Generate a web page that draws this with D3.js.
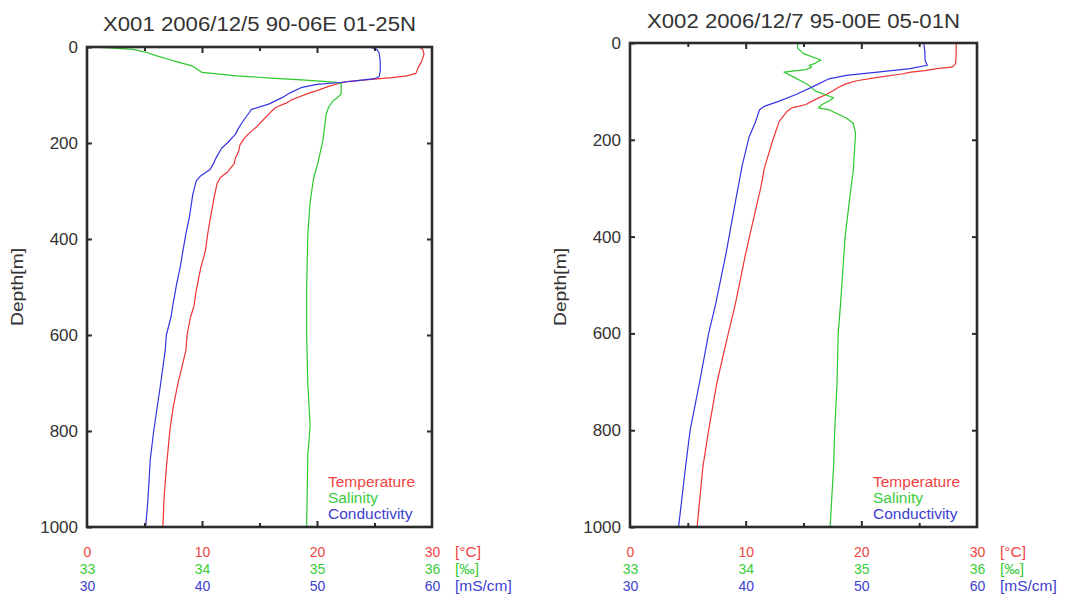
<!DOCTYPE html>
<html><head><meta charset="utf-8">
<script src="https://cdn.jsdelivr.net/npm/d3@7"></script>
<style>
body{margin:0;background:#fff}
text{font-family:"Liberation Sans",Arial,Helvetica,sans-serif}
</style>
</head><body>
<svg id="c" width="1089" height="603"></svg>
<script>
// ---------- data ----------
const depthTicks = [0, 200, 400, 600, 800, 1000];
const tempTicks = [0, 10, 20, 30];
const salTicks = [33, 34, 35, 36];
const condTicks = [30, 40, 50, 60];
const majorTempTicks = [10, 20];
const minorTempTicks = [5, 15, 25];
const units = ["[°C]", "[‰]", "[mS/cm]"];
const legendLabels = ["Temperature", "Salinity", "Conductivity"];
const titles = ["X001 2006/12/5 90-06E 01-25N", "X002 2006/12/7 95-00E 05-01N"];

// [depth m, value]
const x001Temperature = [[0,28.9],[5,29.2],[15,29.3],[30,29.1],[43,28.8],[55,28.6],[60,27.8],[64,26.5],[68,24.5],[72,22.6],[76,21.9],[82,21.0],[91,20.0],[96,19.3],[110,17.8],[117,17.3],[126,16.4],[135,16.0],[150,15.4],[165,14.8],[182,14.0],[190,13.7],[204,13.3],[216,13.2],[232,12.9],[243,12.8],[261,12.2],[272,11.6],[285,11.3],[320,11.0],[360,10.7],[389,10.5],[424,10.3],[459,9.9],[507,9.5],[540,9.3],[563,9.0],[600,8.7],[632,8.6],[702,7.9],[750,7.5],[800,7.2],[877,6.9],[940,6.7],[1000,6.6]];
const x001Salinity = [[0,33.0],[2,33.2],[5,33.4],[10,33.5],[18,33.6],[25,33.7],[32,33.8],[40,33.92],[53,34.0],[60,34.3],[65,34.6],[69,34.9],[73,35.15],[76,35.21],[98,35.21],[105,35.18],[112,35.14],[126,35.1],[140,35.08],[196,35.05],[239,35.01],[274,34.97],[323,34.94],[393,34.92],[500,34.91],[600,34.91],[700,34.92],[790,34.94],[850,34.92],[1000,34.91]];
const x001Conductivity = [[0,54.6],[5,55.2],[12,55.4],[30,55.5],[50,55.5],[62,55.4],[66,55.0],[70,53.5],[74,52.0],[78,50.0],[84,48.7],[95,47.7],[105,47.0],[119,45.8],[130,44.3],[137,44.1],[150,43.7],[168,43.2],[182,42.9],[200,42.2],[211,41.7],[232,41.2],[243,41.0],[255,40.7],[268,39.9],[279,39.5],[307,39.2],[355,38.9],[389,38.6],[459,38.1],[493,37.8],[533,37.5],[563,37.3],[600,36.9],[632,36.8],[702,36.4],[800,35.8],[860,35.5],[943,35.3],[1000,35.1]];

const x002Temperature = [[0,28.2],[20,28.2],[42,28.15],[47,28.0],[50,27.8],[53,26.5],[57,25.5],[60,24.3],[64,23.5],[71,21.4],[78,19.6],[85,18.6],[92,18.0],[99,17.5],[106,17.0],[117,16.0],[127,15.2],[134,14.0],[141,13.6],[162,12.9],[204,12.3],[260,11.6],[300,11.3],[330,11.0],[435,10.0],[540,9.1],[600,8.5],[703,7.5],[800,6.8],[876,6.3],[1000,5.8]];
const x002Salinity = [[0,34.45],[11,34.45],[22,34.5],[35,34.65],[42,34.6],[46,34.55],[50,34.57],[55,34.52],[60,34.33],[71,34.42],[81,34.5],[88,34.55],[99,34.6],[113,34.76],[120,34.72],[127,34.66],[134,34.63],[138,34.72],[155,34.87],[166,34.93],[187,34.95],[265,34.93],[300,34.91],[400,34.86],[540,34.82],[600,34.8],[703,34.79],[800,34.77],[876,34.76],[1000,34.73]];
const x002Conductivity = [[0,55.4],[20,55.5],[35,55.5],[46,55.7],[53,54.2],[60,51.4],[67,48.7],[74,47.2],[88,46.0],[106,44.4],[120,42.9],[131,41.6],[138,41.2],[166,40.8],[194,40.3],[253,39.7],[330,39.1],[435,38.3],[540,37.4],[600,36.8],[703,36.0],[800,35.2],[876,34.8],[1000,34.2]];

const profiles = [
  [x001Temperature, x001Salinity, x001Conductivity],
  [x002Temperature, x002Salinity, x002Conductivity]
];

// ---------- layout / style ----------
const layouts = [
  {x0: 87, x1: 432, y0: 47, y1: 527, titleY: 31},
  {x0: 630, x1: 977, y0: 43, y1: 527, titleY: 28}
];
const lineColors = ["#f03434", "#2cc82c", "#3434e0"];
const textColors = ["#f04444", "#3ccc3c", "#4040d0"];
const rowBaselines = [557, 574, 591];
const legendBaselines = [487, 503, 519];
const frameColor = "#2b2b2b";

const svg = d3.select("#c");

layouts.forEach((L, i) => {
  const g = svg.append("g");
  const y = d3.scaleLinear().domain([0, 1000]).range([L.y0, L.y1]);
  const xT = d3.scaleLinear().domain([0, 30]).range([L.x0, L.x1]);
  const xS = d3.scaleLinear().domain([33, 36]).range([L.x0, L.x1]);
  const xC = d3.scaleLinear().domain([30, 60]).range([L.x0, L.x1]);
  const xs = [xT, xS, xC];

  // profiles
  profiles[i].forEach((data, k) => {
    g.append("path").datum(data)
      .attr("fill", "none")
      .attr("stroke", lineColors[k])
      .attr("stroke-width", 1.2)
      .attr("stroke-linejoin", "round")
      .attr("d", d3.line().x(d => xs[k](d[1])).y(d => y(d[0])));
  });

  const styleAxis = a => {
    a.select(".domain").remove();
    a.selectAll(".tick line").attr("stroke", frameColor).attr("stroke-width", 2);
  };

  // left axis with labels
  g.append("g").attr("transform", `translate(${L.x0},0)`)
    .call(d3.axisLeft(y).tickValues(depthTicks).tickSize(-5).tickPadding(9).tickFormat(d3.format("d")))
    .call(styleAxis)
    .call(a => a.selectAll("text")
      .attr("fill", "#333").attr("font-size", 17)
      .attr("font-family", "'Liberation Sans', Arial, sans-serif"));
  // right axis ticks
  g.append("g").attr("transform", `translate(${L.x1},0)`)
    .call(d3.axisRight(y).tickValues(depthTicks.slice(1, -1)).tickSize(-5).tickFormat(""))
    .call(styleAxis);
  // top/bottom ticks
  [[d3.axisTop, L.y0], [d3.axisBottom, L.y1]].forEach(([ax, yy]) => {
    g.append("g").attr("transform", `translate(0,${yy})`)
      .call(ax(xT).tickValues(majorTempTicks).tickSize(-6).tickFormat(""))
      .call(styleAxis);
    g.append("g").attr("transform", `translate(0,${yy})`)
      .call(ax(xT).tickValues(minorTempTicks).tickSize(-4).tickFormat(""))
      .call(styleAxis);
  });

  // frame
  g.append("rect")
    .attr("x", L.x0).attr("y", L.y0)
    .attr("width", L.x1 - L.x0).attr("height", L.y1 - L.y0)
    .attr("fill", "none").attr("stroke", frameColor).attr("stroke-width", 2.6);

  // colored label rows under the axis
  [tempTicks, salTicks, condTicks].forEach((ticks, k) => {
    g.append("g").attr("transform", `translate(0,${rowBaselines[k]})`)
      .call(d3.axisBottom(xs[k]).tickValues(ticks).tickSize(0).tickPadding(0).tickFormat(d3.format("d")))
      .call(a => {
        a.select(".domain").remove();
        a.selectAll("text").attr("y", 0).attr("dy", null)
          .attr("fill", textColors[k]).attr("font-size", 14)
          .attr("font-family", "'Liberation Sans', Arial, sans-serif");
      });
    g.append("text")
      .attr("x", L.x1 + 23).attr("y", rowBaselines[k])
      .attr("fill", textColors[k]).attr("font-size", 15.5)
      .text(units[k]);
  });

  // legend
  legendLabels.forEach((lab, k) => {
    g.append("text")
      .attr("x", L.x1 - 104).attr("y", legendBaselines[k])
      .attr("fill", textColors[k]).attr("font-size", 15.5)
      .text(lab);
  });

  // title
  g.append("text")
    .attr("x", (L.x0 + L.x1) / 2).attr("y", L.titleY)
    .attr("text-anchor", "middle").attr("fill", "#333").attr("font-size", 19.5)
    .attr("textLength", 313).attr("lengthAdjust", "spacingAndGlyphs")
    .text(titles[i]);

  // y label
  g.append("text")
    .attr("transform", `translate(${L.x0 - 64},287) rotate(-90)`)
    .attr("text-anchor", "middle").attr("fill", "#333").attr("font-size", 16)
    .attr("textLength", 78).attr("lengthAdjust", "spacingAndGlyphs")
    .text("Depth[m]");
});
</script>
</body></html>
